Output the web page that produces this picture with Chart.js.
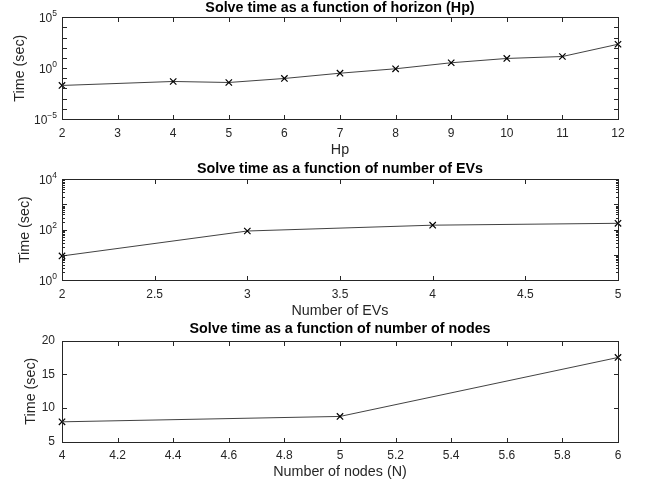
<!DOCTYPE html>
<html>
<head>
<meta charset="utf-8">
<script src="https://cdn.jsdelivr.net/npm/chart.js@4.4.1/dist/chart.umd.min.js"></script>
<style>
  body { margin: 0; background: #fff; }
  .box { position: absolute; left: 0; width: 650px; }
</style>
</head>
<body>
<div class="box" style="top:0px;height:160px"><canvas id="c1" width="650" height="160"></canvas></div>
<div class="box" style="top:160px;height:160px"><canvas id="c2" width="650" height="160"></canvas></div>
<div class="box" style="top:320px;height:167px"><canvas id="c3" width="650" height="167"></canvas></div>
<script>
// horizon plot
const hp = [2, 4, 5, 6, 7, 8, 9, 10, 11, 12];
const hpTime = [0.02, 0.049, 0.039, 0.097, 0.32, 0.87, 3.4, 9, 14, 225];
const hpTicks = [2, 3, 4, 5, 6, 7, 8, 9, 10, 11, 12];
const hpDecades = [-5, -4, -3, -2, -1, 0, 1, 2, 3, 4, 5];
const hpLabelExp = [-5, 0, 5];

// number of EVs plot
const evs = [2, 3, 4, 5];
const evTime = [9, 88, 150, 178];
const evTicks = [2, 2.5, 3, 3.5, 4, 4.5, 5];
const evDecades = [0, 1, 2, 3, 4];
const evLabelExp = [0, 2, 4];

// number of nodes plot
const nodes = [4, 5, 6];
const nodeTime = [7.95, 8.75, 17.5];
const nodeXTicks = [4, 4.2, 4.4, 4.6, 4.8, 5, 5.2, 5.4, 5.6, 5.8, 6];
const nodeYTicks = [5, 10, 15, 20];

const txt = "#262626";
const fam = "'Liberation Sans', Arial, sans-serif";

// matlab style box with inward ticks (+ 10^n labels for log axes)
const boxPlugin = {
  id: "mbox",
  afterDraw(chart, args, opts) {
    const { ctx, chartArea: a } = chart;
    const x = chart.scales.x, y = chart.scales.y;
    const L = 4.5;
    ctx.save();
    ctx.strokeStyle = txt;
    ctx.lineWidth = 1;
    const line = (x1, y1, x2, y2) => {
      ctx.beginPath(); ctx.moveTo(x1, y1); ctx.lineTo(x2, y2); ctx.stroke();
    };
    const l = Math.round(a.left) + 0.5, r = Math.round(a.right) + 0.5;
    const t = Math.round(a.top) + 0.5, b = Math.round(a.bottom) + 0.5;
    ctx.strokeRect(l, t, r - l, b - t);
    x.ticks.forEach((tk) => {
      const px = Math.round(x.getPixelForValue(tk.value)) + 0.5;
      line(px, b, px, b - L);
      line(px, t, px, t + L);
    });
    y.ticks.forEach((tk) => {
      const py = Math.round(y.getPixelForValue(tk.value)) + 0.5;
      line(l, py, l + L, py);
      line(r, py, r - L, py);
    });
    if (opts.minor) {
      for (let e = y.min; e < y.max; e *= 10) {
        for (let k = 2; k <= 9; k++) {
          const py = Math.round(y.getPixelForValue(e * k)) + 0.5;
          line(l, py, l + 2.5, py);
          line(r, py, r - 2.5, py);
        }
      }
    }
    if (opts.expLabels) {
      ctx.fillStyle = txt;
      ctx.textAlign = "right";
      ctx.textBaseline = "middle";
      const xr = a.left - 5;
      opts.expLabels.forEach((e) => {
        const py = y.getPixelForValue(Math.pow(10, e));
        ctx.font = "8.5px " + fam;
        const s = String(e).replace("-", "\u2212");
        const w = ctx.measureText(s).width;
        ctx.fillText(s, xr, py - 3.5);
        ctx.font = "12px " + fam;
        ctx.fillText("10", xr - w, py + 1.5);
      });
    }
    ctx.restore();
  },
};

function makeChart(id, xs, ys, o) {
  return new Chart(id, {
    type: "line",
    data: {
      datasets: [
        {
          data: xs.map((v, i) => ({ x: v, y: ys[i] })),
          borderColor: "#111",
          borderWidth: 0.8,
          pointStyle: "crossRot",
          pointRadius: 4.5,
          pointBorderWidth: 1.2,
          pointBorderColor: "#000",
          pointBackgroundColor: "#000",
          tension: 0,
          clip: false,
        },
      ],
    },
    options: {
      responsive: false,
      animation: false,
      layout: { padding: { left: 0, right: 32, top: 0, bottom: 0 } },
      plugins: {
        legend: { display: false },
        tooltip: { enabled: false },
        title: {
          display: true,
          fullSize: false,
          text: o.title,
          color: "#000",
          font: { family: fam, size: 14.3, weight: "bold", lineHeight: 1.1 },
          padding: o.titlePad,
        },
        mbox: { minor: o.minor, expLabels: o.expLabels },
      },
      scales: {
        x: {
          type: "linear",
          min: o.xTicks[0],
          max: o.xTicks[o.xTicks.length - 1],
          afterBuildTicks: (s) => { s.ticks = o.xTicks.map((v) => ({ value: v })); },
          afterFit: (s) => { s.height = o.xHeight; },
          grid: { display: false, drawTicks: false },
          border: { display: false },
          ticks: {
            autoSkip: false, maxRotation: 0, padding: o.xTickPad, color: txt,
            font: { family: fam, size: 12 },
            callback: (v) => String(v),
          },
          title: {
            display: true, text: o.xTitle, color: txt,
            font: { family: fam, size: 14.3 },
            padding: { top: 0, bottom: o.xTitlePad },
          },
        },
        y: {
          type: o.expLabels ? "logarithmic" : "linear",
          min: o.yMin,
          max: o.yMax,
          afterBuildTicks: (s) => { s.ticks = o.yTicks.map((v) => ({ value: v })); },
          afterFit: (s) => { s.width = 62; },
          grid: { display: false, drawTicks: false },
          border: { display: false },
          ticks: {
            autoSkip: false, padding: 7, color: txt,
            font: { family: fam, size: 12 },
            callback: (v) => (o.expLabels ? "" : String(v)),
          },
          title: {
            display: true, text: "Time (sec)", color: txt,
            font: { family: fam, size: 14.3 },
            padding: { top: o.yTitlePad, bottom: 0 },
          },
        },
      },
    },
    plugins: [boxPlugin],
  });
}

makeChart("c1", hp, hpTime, {
  title: "Solve time as a function of horizon (Hp)",
  titlePad: { top: 0, bottom: 1.6 },
  xTicks: hpTicks, xHeight: 41, xTickPad: 7.5, xTitle: "Hp", xTitlePad: 1.4,
  yMin: 1e-5, yMax: 1e5,
  yTicks: hpDecades.map((e) => Math.pow(10, e)),
  expLabels: hpLabelExp,
  yTitlePad: 11.9, minor: false,
});

makeChart("c2", evs, evTime, {
  title: "Solve time as a function of number of EVs",
  titlePad: { top: 1.4, bottom: 2.1 },
  xTicks: evTicks, xHeight: 40, xTickPad: 7, xTitle: "Number of EVs", xTitlePad: 0.4,
  yMin: 1, yMax: 1e4,
  yTicks: evDecades.map((e) => Math.pow(10, e)),
  expLabels: evLabelExp,
  yTitlePad: 16.9, minor: true,
});

makeChart("c3", nodes, nodeTime, {
  title: "Solve time as a function of number of nodes",
  titlePad: { top: 1.1, bottom: 3.8 },
  xTicks: nodeXTicks, xHeight: 45.3, xTickPad: 7, xTitle: "Number of nodes (N)", xTitlePad: 6.4,
  yMin: 5, yMax: 20,
  yTicks: nodeYTicks,
  expLabels: null,
  yTitlePad: 22.2, minor: false,
});
</script>
</body>
</html>
